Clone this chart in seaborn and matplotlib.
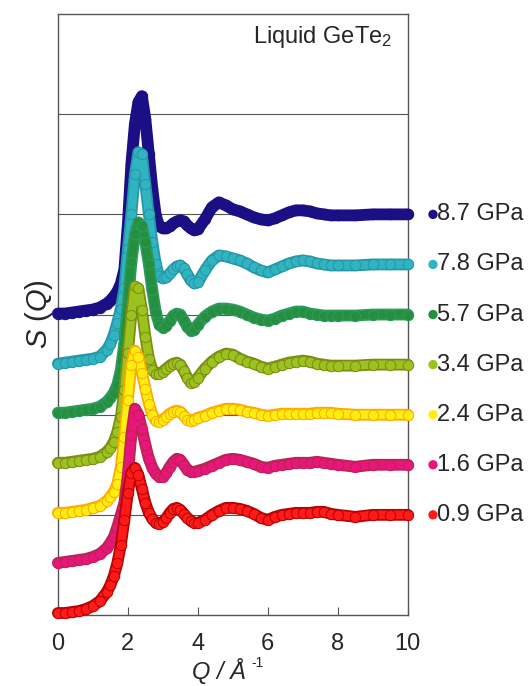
import numpy as np
import pandas as pd
import matplotlib
matplotlib.use("Agg")
import matplotlib.pyplot as plt
import seaborn as sns

# Q grid (1/Angstrom), shared by all curves
q = [0.0, 0.2, 0.4, 0.6, 0.8, 1.0, 1.2, 1.4, 1.5, 1.6, 1.7, 1.8, 1.9, 2.0,
     2.1, 2.2, 2.3, 2.4, 2.5, 2.6, 2.7, 2.8, 2.9, 3.0, 3.1, 3.2, 3.3, 3.4,
     3.5, 3.6, 3.7, 3.8, 3.9, 4.0, 4.2, 4.4, 4.6, 4.8, 5.0, 5.2, 5.4, 5.6,
     5.8, 6.0, 6.2, 6.4, 6.6, 6.8, 7.0, 7.2, 7.4, 7.6, 7.8, 8.0, 8.5, 9.0,
     9.5, 10.0]

# S(Q) (without vertical shift)
s_09 = [0.02, 0.02, 0.03, 0.04, 0.06, 0.09, 0.14, 0.23, 0.30, 0.39, 0.52, 0.70, 0.95, 1.22,
        1.42, 1.47, 1.40, 1.26, 1.12, 1.02, 0.96, 0.92, 0.91, 0.93, 0.97, 1.02, 1.06, 1.07,
        1.05, 1.01, 0.97, 0.94, 0.92, 0.92, 0.95, 1.00, 1.04, 1.07, 1.07, 1.06, 1.04, 1.01,
        0.97, 0.95, 0.98, 1.00, 1.01, 1.02, 1.02, 1.02, 1.03, 1.03, 1.01, 1.00, 0.98, 1.00,
        1.00, 1.00]
s_16 = [0.02, 0.03, 0.04, 0.05, 0.06, 0.08, 0.11, 0.17, 0.22, 0.28, 0.38, 0.50, 0.62, 0.90,
        1.30, 1.56, 1.50, 1.36, 1.20, 1.06, 0.97, 0.91, 0.88, 0.88, 0.92, 0.98, 1.03, 1.06,
        1.05, 1.00, 0.95, 0.93, 0.93, 0.94, 0.96, 0.99, 1.02, 1.05, 1.06, 1.05, 1.03, 1.01,
        0.98, 0.97, 0.99, 1.00, 1.01, 1.02, 1.02, 1.02, 1.03, 1.02, 1.01, 1.00, 0.98, 1.00,
        1.00, 1.00]
s_24 = [0.02, 0.02, 0.03, 0.04, 0.05, 0.07, 0.09, 0.14, 0.18, 0.23, 0.31, 0.48, 0.78, 1.15,
        1.50, 1.64, 1.58, 1.42, 1.26, 1.11, 1.00, 0.94, 0.93, 0.95, 0.98, 1.01, 1.03, 1.04,
        1.03, 0.99, 0.95, 0.94, 0.95, 0.97, 0.99, 1.02, 1.04, 1.06, 1.06, 1.05, 1.03, 1.02,
        1.00, 0.99, 1.00, 1.01, 1.01, 1.01, 1.01, 1.01, 1.02, 1.02, 1.02, 1.01, 1.00, 1.00,
        1.00, 1.00]
s_34 = [0.02, 0.02, 0.03, 0.04, 0.05, 0.06, 0.08, 0.13, 0.17, 0.23, 0.33, 0.48, 0.75, 1.12,
        1.50, 1.78, 1.76, 1.55, 1.28, 1.06, 0.95, 0.91, 0.91, 0.93, 0.96, 0.99, 1.01, 1.02,
        1.00, 0.94, 0.87, 0.82, 0.83, 0.87, 0.96, 1.03, 1.08, 1.11, 1.10, 1.06, 1.03, 1.01,
        0.98, 0.96, 0.98, 1.00, 1.02, 1.03, 1.04, 1.03, 1.01, 1.00, 0.99, 0.99, 0.99, 1.00,
        1.00, 1.00]
s_57 = [0.02, 0.02, 0.03, 0.04, 0.05, 0.06, 0.08, 0.13, 0.17, 0.22, 0.30, 0.45, 0.72, 1.10,
        1.52, 1.80, 1.92, 1.88, 1.72, 1.50, 1.24, 1.02, 0.90, 0.87, 0.89, 0.94, 0.99, 1.01,
        1.00, 0.94, 0.88, 0.84, 0.85, 0.90, 0.98, 1.03, 1.06, 1.06, 1.05, 1.03, 1.00, 0.97,
        0.95, 0.94, 0.96, 0.99, 1.01, 1.03, 1.03, 1.01, 1.00, 0.99, 0.99, 0.99, 0.99, 1.00,
        1.00, 1.00]
s_78 = [0.01, 0.02, 0.03, 0.04, 0.05, 0.06, 0.08, 0.15, 0.21, 0.30, 0.42, 0.56, 0.76, 1.15,
        1.50, 1.90, 2.12, 2.10, 1.80, 1.50, 1.22, 1.00, 0.88, 0.86, 0.87, 0.91, 0.95, 0.98,
        0.99, 0.96, 0.90, 0.84, 0.81, 0.82, 0.94, 1.04, 1.09, 1.08, 1.06, 1.04, 1.01, 0.97,
        0.94, 0.92, 0.95, 0.98, 1.01, 1.03, 1.04, 1.03, 1.01, 1.00, 0.99, 0.99, 0.99, 1.00,
        1.00, 1.00]
s_87 = [0.01, 0.01, 0.02, 0.03, 0.04, 0.05, 0.07, 0.11, 0.14, 0.18, 0.23, 0.31, 0.45, 0.90,
        1.50, 1.90, 2.12, 2.18, 1.95, 1.60, 1.25, 0.98, 0.88, 0.86, 0.86, 0.88, 0.91, 0.93,
        0.94, 0.93, 0.89, 0.86, 0.84, 0.85, 0.95, 1.07, 1.12, 1.09, 1.05, 1.03, 1.00, 0.97,
        0.95, 0.94, 0.96, 0.99, 1.02, 1.04, 1.04, 1.03, 1.01, 1.00, 0.99, 0.99, 0.99, 1.00,
        1.00, 1.00]

pressures = ["0.9 GPa", "1.6 GPa", "2.4 GPa", "3.4 GPa", "5.7 GPa", "7.8 GPa", "8.7 GPa"]
curves = [s_09, s_16, s_24, s_34, s_57, s_78, s_87]
fills = ["#ff1a1a", "#e8157c", "#ffee10", "#9bc21e", "#24903f", "#30b4c2", "#1b0f85"]
edges = ["#b40404", "#b8264e", "#ffa800", "#7c8c12", "#2e9a5c", "#2696a6", "#1b0f85"]
shift = 0.5

rows = []
for i, (p, s) in enumerate(zip(pressures, curves)):
    for qq, ss in zip(q, s):
        rows.append({"Q": qq, "S": ss + i * shift, "P": p})
df = pd.DataFrame(rows)

sns.set_style("white")
plt.rcParams["font.family"] = ["Liberation Sans", "DejaVu Sans"]
plt.rcParams["mathtext.fontset"] = "custom"
plt.rcParams["mathtext.rm"] = "Liberation Sans"
plt.rcParams["mathtext.it"] = "Liberation Sans:italic"

fig = plt.figure(figsize=(5.31, 6.86), dpi=100)
ax = fig.add_axes([0.109, 0.1035, 0.659, 0.876])

# horizontal guide lines
for yy in range(1, 6):
    ax.axhline(yy, color="#555555", lw=0.8, zorder=0)

# highest pressure first so lower pressures sit on top
for i in reversed(range(len(pressures))):
    d = df[df["P"] == pressures[i]]
    z = 2 + (len(pressures) - i)
    # thick band underneath, then the dots
    sns.lineplot(data=d, x="Q", y="S", ax=ax, color=edges[i], linewidth=8.5,
                 solid_capstyle="round", solid_joinstyle="round",
                 clip_on=False, zorder=z)
    sns.lineplot(data=d, x="Q", y="S", ax=ax, color=fills[i], linewidth=6.0,
                 marker="o", markersize=7.5, markerfacecolor=fills[i],
                 markeredgecolor=edges[i], markeredgewidth=0.7,
                 solid_capstyle="round", solid_joinstyle="round",
                 clip_on=False, zorder=z)
    y_end = curves[i][-1] + i * shift
    ax.scatter([10.72], [y_end], s=45, color=fills[i], edgecolor="none",
               clip_on=False, zorder=10)
    ax.text(10.84, y_end, pressures[i], fontsize=17, va="center", ha="left",
            clip_on=False)

ax.set_xlim(0, 10)
ax.set_ylim(0, 6)
ax.set_xticks([0, 2, 4, 6, 8, 10])
ax.set_yticks([])
ax.tick_params(axis="x", direction="in", length=6, width=0.8, color="#555555",
               labelsize=17, pad=13, bottom=True)
for sp in ax.spines.values():
    sp.set_color("#555555")
    sp.set_linewidth(1.0)

ax.set_xlabel("")
ax.set_ylabel(r"$S$ $(Q)$", fontsize=21, labelpad=2)
fig.text(0.463, 0.022, "Q / Å", fontsize=17, fontstyle="italic",
         ha="right", va="center")
fig.text(0.474, 0.033, "-1", fontsize=10, ha="left", va="center")
ax.text(0.955, 0.962, r"Liquid GeTe$_2$", transform=ax.transAxes,
        fontsize=17, ha="right", va="center")

fig.savefig("out.png", dpi=100)
